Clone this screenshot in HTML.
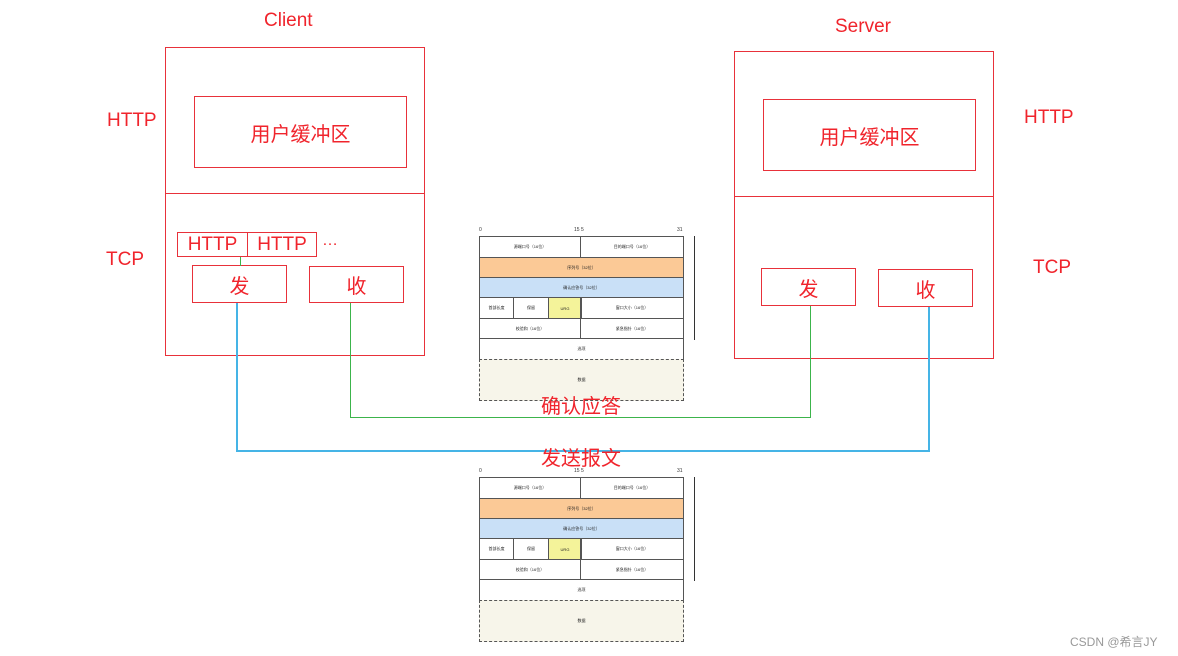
<!DOCTYPE html>
<html><head><meta charset="utf-8"><style>
body{margin:0;width:1178px;height:656px;background:#fff;position:relative;overflow:hidden;font-family:"Liberation Sans","Noto Sans CJK SC",sans-serif}
.a{position:absolute}
.b{position:absolute;border:1px solid #e8313a;box-sizing:border-box}
.t{position:absolute;color:#f0242c;font-size:19px;white-space:nowrap;line-height:1;z-index:5}
.c{display:flex;align-items:center;justify-content:center;color:#f0242c;font-size:20px}
.h{position:absolute;left:0;width:205px;font-size:4px;color:#222;display:flex;align-items:center;justify-content:center;box-sizing:border-box;border:1px solid #555}
.g{position:absolute;background:#3cb44b}
.bl{position:absolute;background:#45b4e6}
</style></head><body>
<div class="t" style="left:264px;top:11px">Client</div>
<div class="t" style="left:835px;top:17px">Server</div>
<div class="t" style="left:107px;top:111px">HTTP</div>
<div class="t" style="left:106px;top:250px">TCP</div>
<div class="t" style="left:1024px;top:108px">HTTP</div>
<div class="t" style="left:1033px;top:258px">TCP</div>

<div class="b" style="left:165px;top:47px;width:260px;height:309px"></div>
<div class="a" style="left:165px;top:193px;width:260px;height:1px;background:#e8313a"></div>
<div class="b c" style="left:194px;top:96px;width:213px;height:72px">用户缓冲区</div>
<div class="b" style="left:734px;top:51px;width:260px;height:308px"></div>
<div class="a" style="left:734px;top:196px;width:260px;height:1px;background:#e8313a"></div>
<div class="b c" style="left:763px;top:99px;width:213px;height:72px">用户缓冲区</div>

<div class="b c" style="left:177px;top:232px;width:71px;height:25px;font-size:19px">HTTP</div>
<div class="b c" style="left:247px;top:232px;width:70px;height:25px;font-size:19px">HTTP</div>
<div class="t" style="left:322px;top:233px;font-size:16px">…</div>
<div class="b c" style="left:192px;top:265px;width:95px;height:38px">发</div>
<div class="b c" style="left:309px;top:266px;width:95px;height:37px">收</div>
<div class="b c" style="left:761px;top:268px;width:95px;height:38px">发</div>
<div class="b c" style="left:878px;top:269px;width:95px;height:38px">收</div>

<div class="g" style="left:240px;top:257px;width:1px;height:9px"></div>
<div class="g" style="left:350px;top:303px;width:1px;height:115px"></div>
<div class="g" style="left:350px;top:417px;width:461px;height:1px"></div>
<div class="g" style="left:810px;top:306px;width:1px;height:112px"></div>
<div class="bl" style="left:236px;top:303px;width:2px;height:149px"></div>
<div class="bl" style="left:237px;top:450px;width:693px;height:2px"></div>
<div class="bl" style="left:928px;top:307px;width:2px;height:145px"></div>

<div class="a" style="left:479px;top:227px;width:230px;height:176px">
 <div class="a" style="left:0;top:0;font-size:5px;color:#333">0</div>
 <div class="a" style="left:95px;top:0;font-size:5px;color:#333">15 5</div>
 <div class="a" style="left:198px;top:0;font-size:5px;color:#333">31</div>
 <div class="h" style="top:9px;height:22px;width:102px">源端口号（16位）</div>
 <div class="h" style="top:9px;left:101px;height:22px;width:104px">目的端口号（16位）</div>
 <div class="h" style="top:30px;height:21px;background:#fbc996">序列号（32位）</div>
 <div class="h" style="top:50px;height:21px;background:#c9e0f7">确认应答号（32位）</div>
 <div class="h" style="top:70px;height:22px;width:35px">首部长度</div>
 <div class="h" style="top:70px;left:34px;height:22px;width:36px">保留</div>
 <div class="h" style="top:70px;left:69px;height:22px;width:34px;background:#f4f39a">URG</div>
 <div class="h" style="top:70px;left:101px;height:22px;width:104px">窗口大小（16位）</div>
 <div class="h" style="top:91px;height:21px;width:102px">校验和（16位）</div>
 <div class="h" style="top:91px;left:101px;height:21px;width:104px">紧急指针（16位）</div>
 <div class="h" style="top:111px;height:22px">选项</div>
 <div class="h" style="top:132px;height:42px;background:#f7f5ea;border-style:dashed">数据</div>
 <div class="a" style="left:215px;top:9px;width:1px;height:104px;background:#333"></div>
</div>

<div class="a" style="left:479px;top:468px;width:230px;height:176px">
 <div class="a" style="left:0;top:0;font-size:5px;color:#333">0</div>
 <div class="a" style="left:95px;top:0;font-size:5px;color:#333">15 5</div>
 <div class="a" style="left:198px;top:0;font-size:5px;color:#333">31</div>
 <div class="h" style="top:9px;height:22px;width:102px">源端口号（16位）</div>
 <div class="h" style="top:9px;left:101px;height:22px;width:104px">目的端口号（16位）</div>
 <div class="h" style="top:30px;height:21px;background:#fbc996">序列号（32位）</div>
 <div class="h" style="top:50px;height:21px;background:#c9e0f7">确认应答号（32位）</div>
 <div class="h" style="top:70px;height:22px;width:35px">首部长度</div>
 <div class="h" style="top:70px;left:34px;height:22px;width:36px">保留</div>
 <div class="h" style="top:70px;left:69px;height:22px;width:34px;background:#f4f39a">URG</div>
 <div class="h" style="top:70px;left:101px;height:22px;width:104px">窗口大小（16位）</div>
 <div class="h" style="top:91px;height:21px;width:102px">校验和（16位）</div>
 <div class="h" style="top:91px;left:101px;height:21px;width:104px">紧急指针（16位）</div>
 <div class="h" style="top:111px;height:22px">选项</div>
 <div class="h" style="top:132px;height:42px;background:#f7f5ea;border-style:dashed">数据</div>
 <div class="a" style="left:215px;top:9px;width:1px;height:104px;background:#333"></div>
</div>

<div class="t" style="left:541px;top:397px;font-size:20px">确认应答</div>
<div class="t" style="left:541px;top:449px;font-size:20px">发送报文</div>

<div class="a" style="left:1070px;top:633px;font-size:12px;color:#999">CSDN @希言JY</div>
</body></html>
